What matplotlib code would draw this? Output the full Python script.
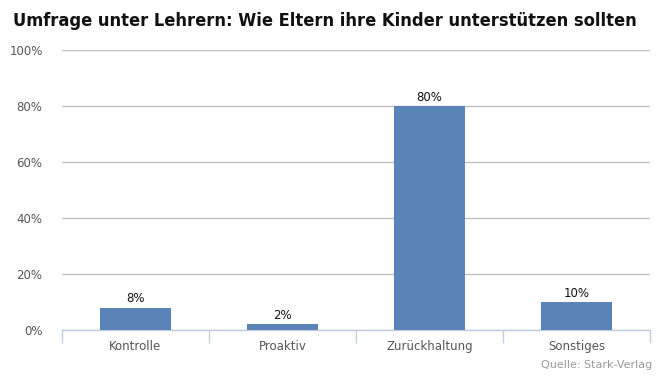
import matplotlib.pyplot as plt
import numpy as np

categories = ['Kontrolle', 'Proaktiv', 'Zurückhaltung', 'Sonstiges']
values = [8, 2, 80, 10]
yticks = [0, 20, 40, 60, 80, 100]

title = 'Umfrage unter Lehrern: Wie Eltern ihre Kinder unterstützen sollten'
source = 'Quelle: Stark-Verlag'

bar_color = '#5a84b8'

fig = plt.figure(figsize=(6.6, 3.79), dpi=100)
# axes in pixel terms: x 62..650, y 50..330 (from top)
ax = fig.add_axes([62 / 660, 1 - 330 / 379, 588 / 660, 280 / 379])

x = np.arange(len(categories))
ax.bar(x, values, width=0.48, color=bar_color, zorder=3)
for xi, v in zip(x, values):
    ax.text(xi, v + 0.8, f'{v}%', ha='center', va='bottom', fontsize=8.5,
            color='#111111', zorder=4)

ax.set_xlim(-0.5, len(categories) - 0.5)
ax.set_ylim(0, 100)
ax.set_yticks(yticks)
ax.set_yticklabels([f'{t}%' for t in yticks])
ax.yaxis.grid(True, color='#c0c0c0', linewidth=1)
ax.set_axisbelow(True)

# category ticks sit on the boundaries, labels centred below each bar
ax.set_xticks(np.arange(-0.5, len(categories)), minor=False)
ax.set_xticklabels([])
ax.set_xticks(x, minor=True)
ax.set_xticklabels(categories, minor=True)
ax.tick_params(axis='x', which='major', length=9, color='#c0d0e0', width=1)
ax.tick_params(axis='x', which='minor', length=0, pad=7, labelsize=8.5,
               labelcolor='#555555')
ax.tick_params(axis='y', length=0, pad=14, labelsize=8.5, labelcolor='#555555')

for side in ['top', 'right', 'left']:
    ax.spines[side].set_visible(False)
ax.spines['bottom'].set_color('#c0d0e0')
ax.spines['bottom'].set_linewidth(1)

t = fig.text(13 / 660, 1 - 21 / 379, title, ha='left', va='center', fontsize=15,
             fontweight='bold', fontstretch='condensed',
             family=['DejaVu Sans'], color='#111111')
# shrink the title until it fits the width used in the reference (~624 px)
renderer = fig.canvas.get_renderer()
w = t.get_window_extent(renderer).width
if w > 626:
    t.set_fontsize(15 * 626 / w)

fig.text(652 / 660, 1 - 365 / 379, source, ha='right', va='center',
         fontsize=8, color='#999999')

fig.savefig('out.png', dpi=100)
